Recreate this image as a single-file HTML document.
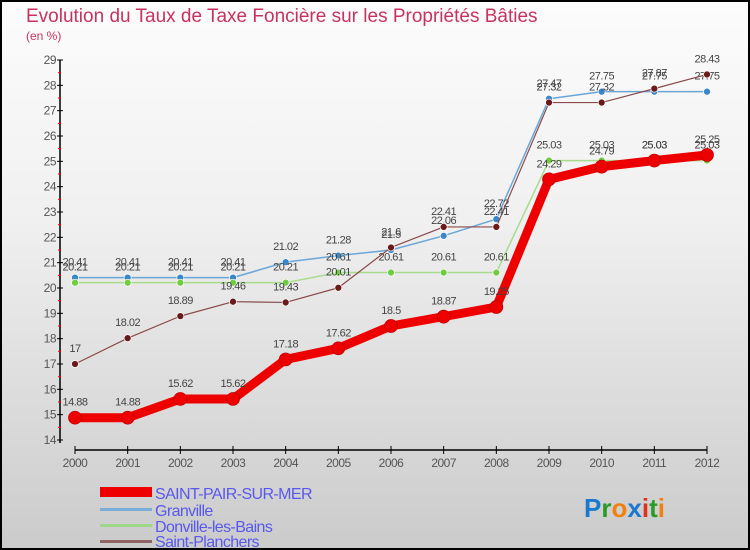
<!DOCTYPE html>
<html><head><meta charset="utf-8"><style>
body{margin:0}
#c{width:750px;height:550px;box-sizing:border-box;border:2px solid #000;background:linear-gradient(#fcfcfc,#f0f0f0 40%,#cbcbcb);position:relative;font-family:"Liberation Sans",sans-serif;overflow:hidden}
svg text{font-family:"Liberation Sans",sans-serif}
</style></head><body>
<div id="c">
<svg id="s" width="750" height="550" style="position:absolute;left:-2px;top:-2px">
<text x="26" y="22" font-size="19" fill="#c8325f">Evolution du Taux de Taxe Foncière sur les Propriétés Bâties</text>
<text x="26" y="40" font-size="12" fill="#c8325f">(en %)</text>
<g id="axes"></g><g id="series"></g>
<g>
<rect x="100" y="487" width="52" height="10" fill="#e00"/>
<text x="155" y="499" font-size="16" letter-spacing="-0.6" fill="#5858ee">SAINT-PAIR-SUR-MER</text>
<rect x="100" y="508" width="52" height="3" fill="#7aaed6"/>
<text x="155" y="516" font-size="16" letter-spacing="-0.6" fill="#5858ee">Granville</text>
<rect x="100" y="524" width="52" height="3" fill="#9ed68a"/>
<text x="155" y="532" font-size="16" letter-spacing="-0.6" fill="#5858ee">Donville-les-Bains</text>
<rect x="100" y="540" width="52" height="3" fill="#8e6464"/>
<text x="155" y="547" font-size="16" letter-spacing="-0.6" fill="#5858ee">Saint-Planchers</text>
</g>
<text x="584" y="517" font-size="26" font-weight="bold"><tspan fill="#1a7ad0">P</tspan><tspan fill="#2a9a2a">r</tspan><tspan fill="#f08010">o</tspan><tspan fill="#1a7ad0">x</tspan><tspan fill="#e03020">i</tspan><tspan fill="#2a9a2a">t</tspan><tspan fill="#f08010">i</tspan></text>
</svg></div>
<script>
const years=[2000,2001,2002,2003,2004,2005,2006,2007,2008,2009,2010,2011,2012];
const yTicks=[14,15,16,17,18,19,20,21,22,23,24,25,26,27,28,29];
const saintPair=[14.88,14.88,15.62,15.62,17.18,17.62,18.5,18.87,19.25,24.29,24.79,25.03,25.25];
const granville=[20.41,20.41,20.41,20.41,21.02,21.28,21.5,22.06,22.72,27.47,27.75,27.75,27.75];
const donville=[20.21,20.21,20.21,20.21,20.21,20.61,20.61,20.61,20.61,25.03,25.03,25.03,25.03];
const saintPlanchers=[17,18.02,18.89,19.46,19.43,20.01,21.6,22.41,22.41,27.32,27.32,27.87,28.43];
const NS="http://www.w3.org/2000/svg";
const X=i=>75+i*(707-75)/(years.length-1);
const Y=v=>60+(29-v)*(440-60)/15;
function mk(t,a,p){const e=document.createElementNS(NS,t);for(const k in a)e.setAttribute(k,a[k]);p.appendChild(e);return e;}
const ax=document.getElementById('axes');
const yl=mk('line',{x1:60,y1:60,x2:60,y2:443,stroke:'#000','stroke-width':1.5},ax);


yTicks.forEach(v=>{
 mk('line',{x1:57,x2:63,y1:Y(v),y2:Y(v),stroke:'#000'},ax);
 if(v<29)mk('line',{x1:58,x2:61,y1:Y(v+0.5),y2:Y(v+0.5),stroke:'#f00'},ax);
 const t=mk('text',{x:56,y:Y(v)+4,'font-size':12,fill:'#555','text-anchor':'end','letter-spacing':-0.5},ax);t.textContent=v;
 
 
});
const xl=mk('line',{x1:75,y1:450,x2:707,y2:450,stroke:'#000','stroke-width':1.5},ax);


years.forEach((y,i)=>{
 mk('line',{x1:X(i),x2:X(i),y1:446,y2:454,stroke:'#000'},ax);
 const t=mk('text',{x:X(i),y:467,'font-size':12,fill:'#555','text-anchor':'middle','letter-spacing':-0.5},ax);t.textContent=y;
 
 
});
const sg=document.getElementById('series');
function draw(data,name,color,w,r,dot,stroke){
 const g=mk('g',{},sg);
 
 
 const l=mk('polyline',{points:data.map((v,i)=>X(i)+','+Y(v)).join(' '),fill:'none',stroke:color,'stroke-width':w,'stroke-linejoin':'round'},g);
 
 
 data.forEach((v,i)=>{
  const c=mk('circle',{cx:X(i),cy:Y(v),r:r,fill:dot,stroke:stroke,'stroke-width':0.7},g);
  
  
  const t=mk('text',{x:X(i),y:Y(v)-12,'font-size':11,fill:'#444','text-anchor':'middle','letter-spacing':-0.5},g);t.textContent=v;
  
  
 });
}
draw(granville,'granville','#6aa6d8',1.5,3.5,'#3a86c8','#fff');
draw(donville,'donville','#a6dc8c',1.5,3.5,'#70cc40','#fff');
draw(saintPlanchers,'saint-planchers','#8a4a4a',1.2,3.5,'#6a1a1a','#fff');
draw(saintPair,'saint-pair','#ee0000',9,6.5,'#ee0000','#b00');
</script>
</body></html>
